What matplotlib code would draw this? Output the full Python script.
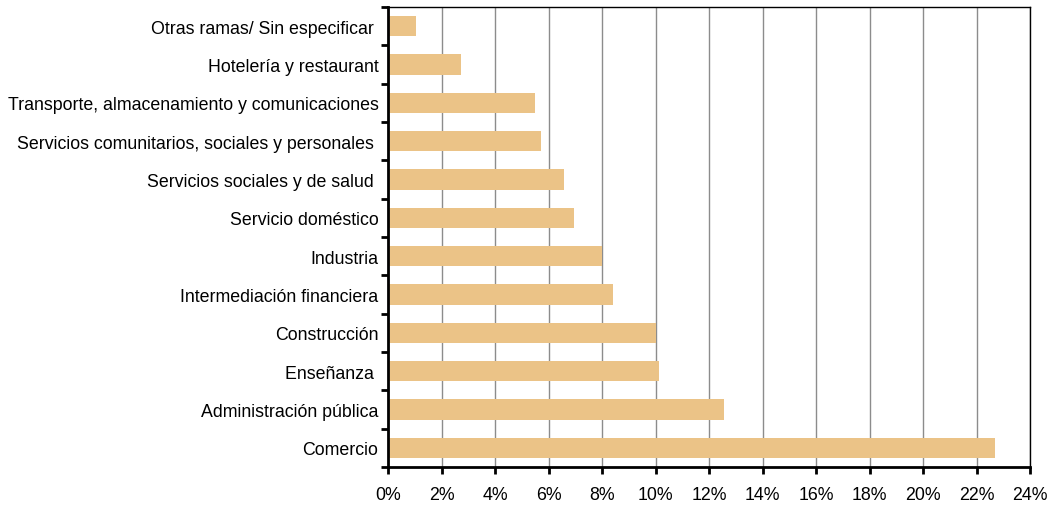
import matplotlib.pyplot as plt
import numpy as np

plt.rcParams['font.family'] = ['Liberation Sans', 'DejaVu Sans']

ramas = ["Comercio", "Administración pública", "Enseñanza ", "Construcción",
         "Intermediación financiera", "Industria", "Servicio doméstico",
         "Servicios sociales y de salud ", "Servicios comunitarios, sociales y personales ",
         "Transporte, almacenamiento y comunicaciones", "Hotelería y restaurant",
         "Otras ramas/ Sin especificar "]
valores = [22.7, 12.55, 10.12, 10.0, 8.42, 8.0, 6.94, 6.56, 5.7, 5.5, 2.74, 1.05]
ticks_x = list(range(0, 25, 2))

fig = plt.figure(figsize=(10.49, 5.06), dpi=100)
ax = fig.add_axes([0.370, 0.075, 0.612, 0.909])

y = np.arange(len(ramas))
ax.barh(y, valores, height=0.53, color="#EBC387", zorder=2)

ax.set_xlim(0, 24)
ax.set_ylim(-0.5, len(ramas) - 0.5)
ax.set_xticks(ticks_x)
ax.set_xticklabels([f"{t}%" for t in ticks_x], fontsize=12.8)
ax.set_yticks(y)
ax.set_yticklabels(ramas, fontsize=12.8)
ax.set_yticks(np.arange(-0.5, len(ramas), 1), minor=True)
ax.tick_params(axis='y', which='major', length=0, pad=7)
ax.tick_params(axis='y', which='minor', length=5, width=2, direction='out')
ax.tick_params(axis='x', length=5, width=2, direction='out', pad=9)

ax.grid(axis='x', color="#8c8c8c", linewidth=1, zorder=0)
ax.set_axisbelow(True)

ax.spines['left'].set_linewidth(2)
ax.spines['bottom'].set_linewidth(2)
ax.spines['top'].set_linewidth(1)
ax.spines['right'].set_linewidth(1)

fig.savefig("out.png", dpi=100)
